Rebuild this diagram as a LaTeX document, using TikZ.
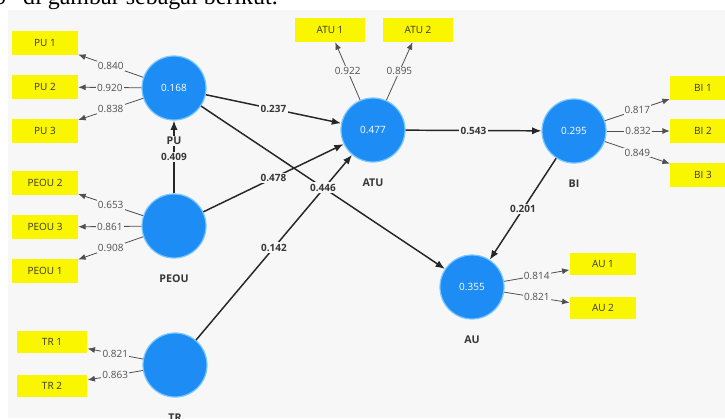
\documentclass[tikz,border=0pt]{standalone}
\usepackage{fontspec}
\setmainfont{Liberation Serif}
\newfontfamily\plsfont{Open Sans}
\usetikzlibrary{arrows.meta,positioning}
\definecolor{plsblue}{RGB}{30,140,245}
\definecolor{plsring}{RGB}{120,200,255}
\definecolor{itemyellow}{RGB}{250,246,0}
\definecolor{canvasgray}{RGB}{247,247,248}
\definecolor{loadgray}{RGB}{80,80,80}
\definecolor{inktext}{RGB}{55,55,55}
\newcommand{\plssize}{\fontsize{7.5}{9}\selectfont}

\begin{document}
\begin{tikzpicture}[x=0.75pt,y=-0.75pt,
  latent/.style={circle,fill=plsblue,draw=plsring,line width=0.9pt,minimum size=48pt,inner sep=0pt,text=white,font=\plsfont\plssize},
  item/.style={fill=itemyellow,minimum width=49.5pt,minimum height=18pt,inner sep=0pt,text=inktext,font=\plsfont\plssize},
  lvname/.style={fill=canvasgray,inner sep=1pt,text=inktext,font=\plsfont\bfseries\fontsize{8}{9}\selectfont},
  innerpath/.style={draw=black!85,line width=1.1pt,-{Latex[length=7pt,width=5.5pt]}},
  outerpath/.style={draw=loadgray,line width=0.6pt,-{Latex[length=5.5pt,width=4.5pt]}},
  coef/.style={fill=canvasgray,inner sep=1pt,text=inktext,font=\plsfont\bfseries\plssize},
  loading/.style={fill=canvasgray,inner sep=0.8pt,text=loadgray,font=\plsfont\plssize}]
  \useasboundingbox (0,0) rectangle (725,418);
  \clip (0,0) rectangle (725,418);
  \fill[white] (0,0) rectangle (725,418);
  \fill[canvasgray] (8,10) rectangle (725,418);
  \node[anchor=base east,inner sep=0pt,font=\fontsize{18}{20}\selectfont] (caption) at (278,4.5) {S” di gambar sebagai berikut.};

  \node[latent] (PU) at (174,88) {0.168};
  \node[latent] (PEOU) at (174,226) {};
  \node[latent] (TR) at (175,365) {};
  \node[latent] (ATU) at (373,130) {0.477};
  \node[latent] (BI) at (574,131) {0.295};
  \node[latent] (AU) at (472,287) {0.355};

  \draw[innerpath] (PEOU) -- node[coef] {0.409} (PU);
  \draw[innerpath] (PU) -- node[coef] {0.237} (ATU);
  \draw[innerpath] (PEOU) -- node[coef] {0.478} (ATU);
  \draw[innerpath] (TR) -- node[coef] {0.142} (ATU);
  \draw[innerpath] (PU) -- node[coef] {0.446} (AU);
  \draw[innerpath] (ATU) -- node[coef] {0.543} (BI);
  \draw[innerpath] (BI) -- node[coef] {0.201} (AU);

  \foreach \lv in {PU,PEOU,TR,ATU,BI,AU}{
    \node[lvname,below=11pt of \lv] (\lv-name) {\lv};
  }

  \foreach \n/\t/\y/\v in {PU1/PU 1/43/0.840,PU2/PU 2/87/0.920,PU3/PU 3/131/0.838}{
    \node[item] (\n) at (45,\y) {\t};
    \draw[outerpath] (PU) -- node[loading] {\v} (\n);
  }
  \foreach \n/\t/\y/\v in {PEOU2/PEOU 2/183/0.653,PEOU3/PEOU 3/227/0.861,PEOU1/PEOU 1/271/0.908}{
    \node[item] (\n) at (45,\y) {\t};
    \draw[outerpath] (PEOU) -- node[loading] {\v} (\n);
  }
  \foreach \n/\t/\y/\v in {TR1/TR 1/342/0.821,TR2/TR 2/386/0.863}{
    \node[item,minimum width=53pt,minimum height=16.5pt] (\n) at (52,\y) {\t};
    \draw[outerpath] (TR) -- node[loading] {\v} (\n);
  }
  \foreach \n/\t/\x/\v in {ATU1/ATU 1/330/0.922,ATU2/ATU 2/418/0.895}{
    \node[item,minimum width=52pt] (\n) at (\x,30) {\t};
    \draw[outerpath] (ATU) -- node[loading] {\v} (\n);
  }
  \foreach \n/\t/\y/\v in {BI1/BI 1/88/0.817,BI2/BI 2/131/0.832,BI3/BI 3/175/0.849}{
    \node[item] (\n) at (703,\y) {\t};
    \draw[outerpath] (BI) -- node[loading] {\v} (\n);
  }
  \foreach \n/\t/\y/\v in {AU1/AU 1/264/0.814,AU2/AU 2/308/0.821}{
    \node[item,minimum width=50pt,minimum height=16.5pt] (\n) at (603,\y) {\t};
    \draw[outerpath] (AU) -- node[loading] {\v} (\n);
  }
\end{tikzpicture}
\end{document}
